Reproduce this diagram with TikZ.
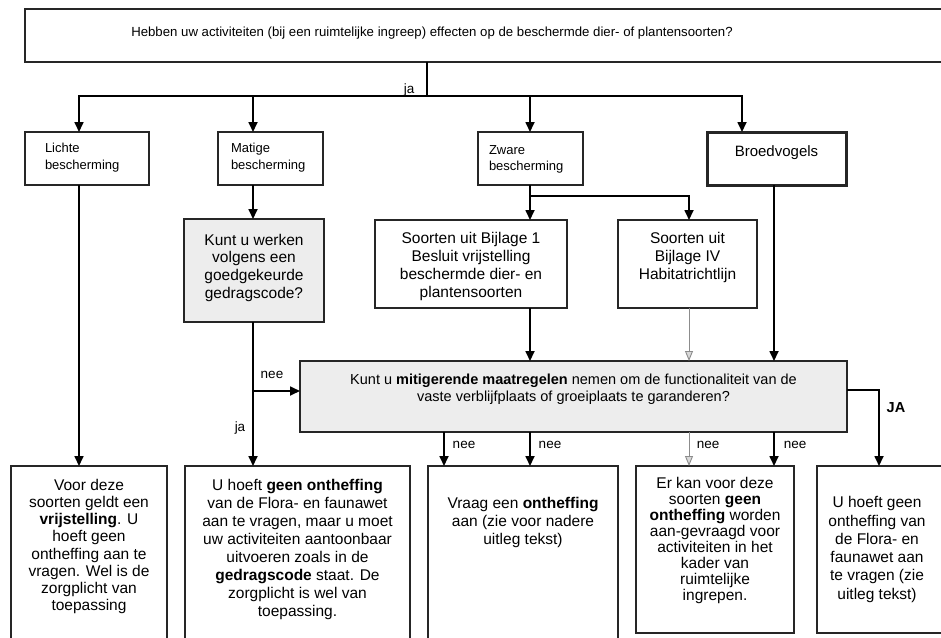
\documentclass[tikz,border=0pt]{standalone}
\usepackage{fontspec}
\setmainfont{Liberation Sans}
\usetikzlibrary{arrows.meta}
\newcommand{\bxt}[4]{\parbox[c][#2][t]{#1}{\vspace*{#3}#4}}
\begin{document}
\begin{tikzpicture}[x=1pt,y=-1pt,
  bx/.style={draw=black!85, line width=1.5pt, inner sep=0pt, outer sep=0pt, anchor=north west},
  shaded/.style={fill=black!7},
  ln/.style={draw=black, line width=1.7pt},
  arr/.style={ln, -{Triangle[length=10pt,width=9pt]}},
  garr/.style={draw=black!45, line width=0.9pt, -{Triangle[length=10pt,width=8pt,fill=black!15]}},
  lab/.style={inner sep=0pt, font=\fontsize{13.5}{15}\selectfont}
]
\useasboundingbox (0,0) rectangle (941,637);
\clip (0,0) rectangle (941,637);
\fill[white] (0,0) rectangle (941,637);

% column / junction coordinates
\coordinate (xA) at (79,0);
\coordinate (xB) at (253,0);
\coordinate (xC) at (530,0);
\coordinate (xD) at (742,0);
\coordinate (xE) at (689,0);
\coordinate (xF) at (774,0);
\coordinate (xG) at (444,0);
\coordinate (xH) at (879,0);
\coordinate (jT) at (427,96);
\coordinate (jZ) at (530,196);
\coordinate (jN) at (253,391);
\coordinate (jJ) at (847,390);

% top question
\node[bx] (top) at (25,9) {\bxt{930pt}{53pt}{18pt}{\fontsize{13.2}{15}\selectfont\centering\rightskip=116pt plus 1fil
Hebben uw activiteiten (bij een ruimtelijke ingreep) effecten op de beschermde dier- of plantensoorten?\par}};

% second row
\node[bx] (lichte) at (25,132) {\bxt{124pt}{53pt}{11pt}{\fontsize{13}{17}\selectfont\raggedright\leftskip=20pt Lichte\\bescherming\par}};
\node[bx] (matige) at (218,132) {\bxt{105pt}{53pt}{11pt}{\fontsize{13}{17}\selectfont\raggedright\leftskip=13pt Matige\\bescherming\par}};
\node[bx] (zware) at (478,132) {\bxt{105pt}{53pt}{14pt}{\fontsize{13}{16}\selectfont\raggedright\leftskip=11pt Zware\\bescherming\par}};
\node[bx, line width=3pt] (broed) at (707,132) {\bxt{139pt}{53pt}{14pt}{\fontsize{15}{17}\selectfont\centering Broedvogels\par}};

% third row
\node[bx, shaded] (werken) at (184,219) {\bxt{140pt}{103pt}{15pt}{\fontsize{15.5}{17.7}\selectfont\centering Kunt u werken\\volgens een\\goedgekeurde\\gedragscode?\par}};
\node[bx] (s1) at (375,220) {\bxt{192pt}{88pt}{12pt}{\fontsize{15.5}{18}\selectfont\centering Soorten uit Bijlage 1\\Besluit vrijstelling\\beschermde dier- en\\plantensoorten\par}};
\node[bx] (s4) at (618,220) {\bxt{139pt}{88pt}{12pt}{\fontsize{15.5}{18}\selectfont\centering Soorten uit\\Bijlage IV\\Habitatrichtlijn\par}};

% mitigation question
\node[bx, shaded] (mit) at (300,361) {\bxt{547pt}{71pt}{12.5pt}{\fontsize{14.5}{17}\selectfont\centering Kunt u \textbf{mitigerende maatregelen} nemen om de functionaliteit van de\\vaste verblijfplaats of groeiplaats te garanderen?\par}};

% bottom row
\node[bx] (b1) at (11,466) {\bxt{156pt}{180pt}{13pt}{\fontsize{15.5}{17.2}\selectfont\centering Voor deze\\soorten geldt een\\\textbf{vrijstelling}. U\\hoeft geen\\ontheffing aan te\\vragen. Wel is de\\zorgplicht van\\toepassing\par}};
\node[bx] (b2) at (185,466) {\bxt{225pt}{180pt}{13pt}{\fontsize{15.5}{18}\selectfont\centering U hoeft \textbf{geen ontheffing}\\van de Flora- en faunawet\\aan te vragen, maar u moet\\uw activiteiten aantoonbaar\\uitvoeren zoals in de\\\textbf{gedragscode} staat. De\\zorgplicht is wel van\\toepassing.\par}};
\node[bx] (b3) at (428,466) {\bxt{190pt}{180pt}{31pt}{\fontsize{15.5}{18}\selectfont\centering Vraag een \textbf{ontheffing}\\aan (zie voor nadere\\uitleg tekst)\par}};
\node[bx] (b4) at (636,466) {\bxt{158pt}{167pt}{11pt}{\fontsize{15.5}{16}\selectfont\centering Er kan voor deze\\soorten \textbf{geen}\\\textbf{ontheffing} worden\\aan-gevraagd voor\\activiteiten in het\\kader van\\ruimtelijke\\ingrepen.\par}};
\node[bx] (b5) at (817,466) {\parbox[c][167pt][c]{135pt}{\fontsize{15.5}{18.3}\selectfont\centering\rightskip=15pt plus 1fil U hoeft geen\\ontheffing van\\de Flora- en\\faunawet aan\\te vragen (zie\\uitleg tekst)\par}};

% connectors from the top question
\draw[ln] (top.south -| jT) -- (jT);
\draw[arr] (jT) -| (lichte.north -| xA);
\draw[arr] (jT) -| (matige.north -| xB);
\draw[arr] (jT) -| (zware.north -| xC);
\draw[arr] (jT) -| (broed.north -| xD);
\node[lab] (ljaT) at (409,90) {ja};

% second row to third row
\draw[arr] (lichte.south -| xA) -- (b1.north -| xA);
\draw[arr] (matige.south -| xB) -- (werken.north -| xB);
\draw[arr] (zware.south -| xC) -- (s1.north -| xC);
\draw[arr] (jZ) -| (s4.north -| xE);
\draw[arr] (broed.south -| xF) -- (mit.north -| xF);

% gedragscode question
\draw[arr] (werken.south -| xB) -- (b2.north -| xB);
\draw[arr] (jN) -- (mit.west |- jN);
\node[lab] (lneeL) at (272,375) {nee};
\node[lab] (ljaL) at (240,428) {ja};

% into mitigation question
\draw[arr] (s1.south -| xC) -- (mit.north -| xC);
\draw[garr] (s4.south -| xE) -- (mit.north -| xE);

% out of mitigation question
\draw[arr] (mit.south -| xG) -- (b3.north -| xG);
\draw[arr] (mit.south -| xC) -- (b3.north -| xC);
\draw[garr] (mit.south -| xE) -- (b4.north -| xE);
\draw[arr] (mit.south -| xF) -- (b4.north -| xF);
\draw[arr] (mit.east |- jJ) -| (b5.north -| xH);
\node[lab] (lnee1) at (464,445) {nee};
\node[lab] (lnee2) at (550,445) {nee};
\node[lab] (lnee3) at (708,445) {nee};
\node[lab] (lnee4) at (795,445) {nee};
\node[lab, font=\bfseries\fontsize{14.5}{16}\selectfont] (lJA) at (896,408) {JA};
\end{tikzpicture}
\end{document}
